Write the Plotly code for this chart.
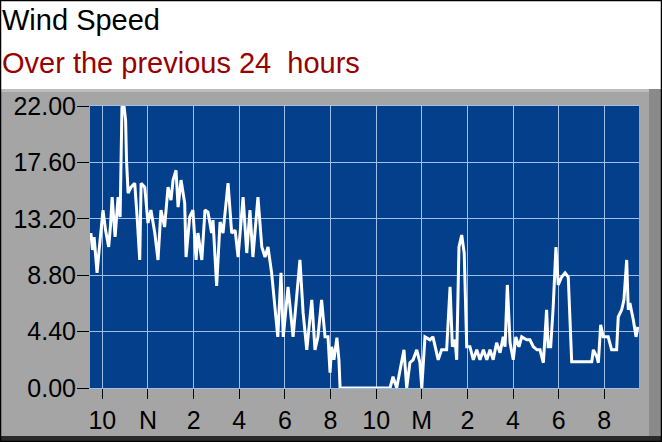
import plotly.graph_objects as go

# hours since midnight of the first day (24 = midnight "M")
hours = [
    9.50, 9.57, 9.64, 9.70, 9.77, 9.86, 9.94, 10.03, 10.14, 10.28,
    10.36, 10.43, 10.56, 10.69, 10.78, 10.86, 10.95, 11.02, 11.06, 11.13,
    11.26, 11.42, 11.52, 11.64, 11.70, 11.86, 12.00, 12.13, 12.30, 12.44,
    12.57, 12.73, 12.88, 13.01, 13.10, 13.23, 13.32, 13.45, 13.61, 13.67,
    13.83, 13.97, 14.11, 14.19, 14.36, 14.50, 14.63, 14.79, 14.85, 15.01,
    15.16, 15.29, 15.51, 15.67, 15.82, 15.95, 16.17, 16.33, 16.47, 16.60,
    16.82, 16.99, 17.13, 17.26, 17.42, 17.57, 17.69, 17.83, 17.93, 18.14,
    18.36, 18.66, 18.80, 18.96, 19.18, 19.32, 19.45, 19.61, 19.76, 19.89,
    19.98, 20.05, 20.15, 20.28, 20.37, 20.42, 22.61, 22.74, 22.90, 23.05,
    23.22, 23.34, 23.48, 23.62, 23.78, 23.92, 24.00, 24.14, 24.36, 24.49,
    24.72, 24.87, 25.09, 25.24, 25.34, 25.46, 25.53, 25.63, 25.75, 25.86,
    25.97, 26.11, 26.26, 26.41, 26.55, 26.70, 26.85, 26.99, 27.13, 27.28,
    27.43, 27.57, 27.65, 27.75, 27.87, 28.01, 28.12, 28.26, 28.38, 28.60,
    28.74, 28.89, 29.05, 29.18, 29.33, 29.47, 29.54, 29.65, 29.76, 29.88,
    29.98, 30.13, 30.28, 30.42, 30.50, 30.57, 31.45, 31.52, 31.67, 31.74,
    31.84, 31.95, 32.17, 32.32, 32.54, 32.61, 32.76, 32.86, 32.98, 33.05,
    33.12, 33.27, 33.39, 33.47,
]

speed = [
    12.09, 10.77, 11.78, 10.22, 8.98, 10.77, 12.09, 13.88, 12.32, 11.00,
    12.71, 14.89, 11.78, 14.89, 13.34, 21.90, 22.00, 20.89, 17.77, 15.20,
    15.67, 15.98, 13.49, 9.99, 15.98, 15.67, 12.87, 13.88, 12.09, 9.99,
    13.88, 12.56, 15.67, 14.66, 16.22, 16.99, 14.11, 16.22, 14.43, 10.22,
    13.34, 13.88, 9.99, 12.09, 9.99, 13.88, 13.72, 12.09, 13.10, 7.96,
    12.95, 12.09, 15.98, 12.09, 12.32, 10.22, 14.89, 10.53, 13.88, 10.22,
    14.89, 11.00, 10.22, 11.00, 8.98, 5.86, 3.99, 8.98, 3.99, 7.89,
    3.99, 9.99, 5.86, 2.98, 6.87, 2.98, 3.99, 6.87, 3.99, 3.99,
    1.19, 3.22, 2.20, 3.92, 2.20, 0.00, 0.00, 0.88, 0.00, 1.42,
    2.98, 0.00, 1.97, 2.20, 2.98, 1.97, 0.00, 3.99, 3.76, 3.99,
    2.20, 2.98, 2.98, 7.89, 3.22, 3.76, 2.20, 11.00, 11.93, 10.53,
    3.22, 3.22, 2.20, 2.98, 2.20, 2.98, 2.20, 2.98, 2.20, 3.53,
    2.75, 3.99, 3.22, 8.04, 3.53, 2.20, 3.99, 3.22, 3.99, 3.76,
    3.76, 3.22, 2.98, 2.98, 1.97, 6.10, 3.22, 3.22, 6.33, 11.00,
    8.04, 8.66, 8.98, 8.66, 5.32, 2.05, 2.05, 2.98, 2.44, 1.97,
    4.93, 3.99, 3.99, 2.98, 2.98, 5.55, 6.10, 6.87, 9.99, 6.10,
    6.62, 5.32, 3.99, 4.77,
]

x_ticks = [10, 12, 14, 16, 18, 20, 22, 24, 26, 28, 30, 32]
x_labels = ['10', 'N', '2', '4', '6', '8', '10', 'M', '2', '4', '6', '8']
y_ticks = [0, 4.4, 8.8, 13.2, 17.6, 22.0]

W, H = 662, 442
L, R, T, B = 90, 23, 106, 54
PW, PH = W - L - R, H - T - B


def px(x):
    return (x - L) / PW


def py(y):
    return (H - B - y) / PH


def box(x0, y0, x1, y1, fill, line=None, lw=0):
    return dict(type='rect', xref='paper', yref='paper', layer='below',
                x0=px(x0), x1=px(x1), y0=py(y1), y1=py(y0),
                fillcolor=fill, line=dict(color=line or fill, width=lw))


shapes = [
    box(0, 89, W, H, '#a5a5a5'),          # grey panel
    box(0, 89, W, 92, '#bdbdbd'),          # top highlight
    box(649, 89, W, H, '#8a8a8a'),         # right shadow
    box(0, 436, W, H, '#2a2a2a'),          # bottom edge
    box(L, T, W - R, H - B, '#033f8b'),    # plot background
    dict(type='rect', xref='paper', yref='paper', layer='above',
         x0=px(0.5), x1=px(W - 0.5), y0=py(H - 0.5), y1=py(0.5),
         line=dict(color='black', width=1.5)),
]

fig = go.Figure()
fig.add_trace(go.Scatter(
    x=hours, y=speed, mode='lines',
    line=dict(color='white', width=3),
    hoverinfo='skip', showlegend=False,
))

fig.update_layout(
    width=W, height=H,
    margin=dict(l=L, r=R, t=T, b=B, pad=0),
    paper_bgcolor='white',
    plot_bgcolor='rgba(0,0,0,0)',
    shapes=shapes,
    font=dict(family='Liberation Sans, Arial, sans-serif', color='black'),
    annotations=[
        dict(text='Wind Speed', xref='paper', yref='paper',
             x=px(0), y=py(20), xanchor='left', yanchor='middle',
             showarrow=False, font=dict(size=29, color='black')),
        dict(text='Over the previous 24\u00a0 hours', xref='paper', yref='paper',
             x=px(0), y=py(63), xanchor='left', yanchor='middle',
             showarrow=False, font=dict(size=29, color='#990000')),
    ],
)

fig.update_xaxes(
    range=[9.46, 33.52], tickvals=x_ticks, ticktext=x_labels,
    ticks='outside', ticklen=10, tickcolor='black', tickwidth=1,
    tickfont=dict(size=25), showgrid=True, gridcolor='#9fc0ea', gridwidth=1,
    zeroline=False, showline=True, mirror=True, linecolor='#9fc0ea',
    automargin=False,
)
fig.update_yaxes(
    range=[0, 22], tickvals=y_ticks, tickformat='.2f',
    ticks='outside', ticklen=12, tickcolor='black', tickwidth=1,
    tickfont=dict(size=25), showgrid=True, gridcolor='#9fc0ea', gridwidth=1,
    zeroline=False, showline=False, automargin=False, ticklabelstandoff=-4,
)

# page margin off so the 662x442 figure fills the window exactly
fig.write_html("out.html", config={'displayModeBar': False},
               post_script="document.body.style.margin='0';")
